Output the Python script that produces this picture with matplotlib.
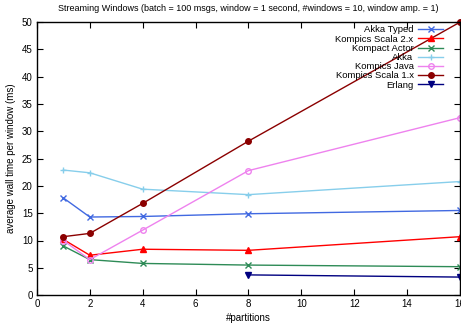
import matplotlib
matplotlib.use("Agg")
import matplotlib.pyplot as plt

partitions = [1, 2, 4, 8, 16]
akka_typed = [17.8, 14.3, 14.4, 14.9, 15.5]
kompics_scala2 = [10.2, 7.3, 8.4, 8.2, 10.7]
kompact_actor = [9.0, 6.5, 5.8, 5.5, 5.2]
akka = [22.9, 22.4, 19.4, 18.4, 20.8]
kompics_java = [10.0, 6.5, 11.9, 22.8, 32.5]
kompics_scala1 = [10.7, 11.3, 16.8, 28.2, 50.0]
erlang_x = [8, 16]
erlang = [3.7, 3.3]

xticks = [0, 2, 4, 6, 8, 10, 12, 14, 16]
yticks = [0, 5, 10, 15, 20, 25, 30, 35, 40, 45, 50]

plt.rcParams['font.family'] = ['Liberation Sans', 'DejaVu Sans']
fig = plt.figure(figsize=(4.61, 3.25), dpi=100)
ax = fig.add_axes([0.080, 0.092, 0.918, 0.840])

series = [
    ("Akka Typed", partitions, akka_typed, "#4169e1", "x", "none"),
    ("Kompics Scala 2.x", partitions, kompics_scala2, "#ff0000", "^", None),
    ("Kompact Actor", partitions, kompact_actor, "#2e8b57", "x", "none"),
    ("Akka", partitions, akka, "#87ceeb", "+", "none"),
    ("Kompics Java", partitions, kompics_java, "#ee82ee", "o", "none"),
    ("Kompics Scala 1.x", partitions, kompics_scala1, "#8b0000", "o", None),
    ("Erlang", erlang_x, erlang, "#000080", "v", None),
]
for label, xs, ys, c, m, fc in series:
    kw = dict(color=c, marker=m, markersize=4, linewidth=1.0, label=label,
              markeredgewidth=1.0)
    if fc == "none":
        kw["markerfacecolor"] = "none"
    ax.plot(xs, ys, clip_on=False, **kw)

ax.set_xlim(0, 16)
ax.set_ylim(0, 50)
ax.set_xticks(xticks)
ax.set_yticks(yticks)
ax.tick_params(direction="in", top=True, right=True, labelsize=7, length=4, width=0.8, pad=3)
for s in ax.spines.values():
    s.set_linewidth(1.0)
ax.set_xlabel("#partitions", fontsize=7, labelpad=3)
ax.set_ylabel("average wall time per window (ms)", fontsize=7, labelpad=4)
ax.set_title("Streaming Windows (batch = 100 msgs, window = 1 second, #windows = 10, window amp. = 1)",
             fontsize=6.5, pad=8)
leg = ax.legend(loc="upper right", frameon=False, fontsize=6.8, markerfirst=False,
                handlelength=2.6, labelspacing=0.02, borderaxespad=0.3, handletextpad=0.5,
                bbox_to_anchor=(0.975, 1.012))
for t in leg.get_texts():
    t.set_ha("right")
fig.savefig("out.png", dpi=100)
